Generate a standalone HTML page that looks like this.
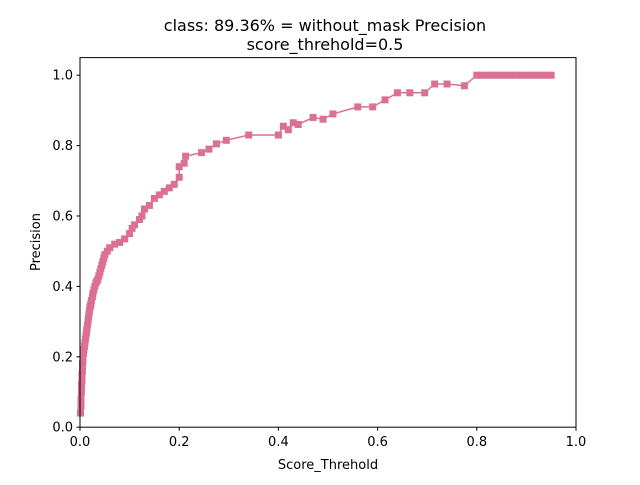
<!DOCTYPE html>
<html><head><meta charset="utf-8"><style>
body{margin:0;background:#fff;}
svg text{font-family:"DejaVu Sans","Liberation Sans",sans-serif;fill:#000;}
</style></head><body>
<svg id="chart" width="640" height="480" xmlns="http://www.w3.org/2000/svg">
<rect width="640" height="480" fill="#fff"/>
<text x="325" y="31" font-size="16" text-anchor="middle">class: 89.36% = without_mask Precision</text>
<text x="325" y="50" font-size="16" text-anchor="middle">score_threhold=0.5</text>
<g id="ticks"></g>
<g id="series"></g>
<rect x="80" y="57.6" width="496" height="369.6" fill="none" stroke="#000" stroke-width="1"/>
<text x="328" y="469" font-size="13" text-anchor="middle">Score_Threhold</text>
<text x="40" y="242" font-size="13" text-anchor="middle" transform="rotate(-90 40 242)">Precision</text>
</svg>
<script>
const xTicks=[0,0.2,0.4,0.6,0.8,1.0];
const yTicks=[0,0.2,0.4,0.6,0.8,1.0];
const xs=[0.001,0.002,0.002,0.003,0.003,0.004,0.004,0.005,0.005,0.006,0.006,0.007,0.008,0.009,0.01,0.011,0.012,0.013,0.014,0.015,0.016,0.017,0.018,0.019,0.02,0.021,0.022,0.023,0.025,0.026,0.028,0.03,0.032,0.034,0.036,0.038,0.04,0.042,0.044,0.046,0.048,0.05,0.055,0.06,0.07,0.08,0.09,0.1,0.105,0.11,0.12,0.125,0.13,0.14,0.15,0.16,0.17,0.18,0.19,0.2,0.2,0.21,0.213,0.245,0.26,0.275,0.295,0.34,0.4,0.41,0.42,0.43,0.44,0.47,0.49,0.51,0.56,0.59,0.615,0.64,0.665,0.695,0.715,0.74,0.775,0.8,0.81,0.82,0.83,0.84,0.85,0.86,0.87,0.88,0.89,0.9,0.91,0.92,0.93,0.94,0.95];
const ys=[0.04,0.06,0.08,0.1,0.12,0.13,0.15,0.16,0.18,0.19,0.2,0.21,0.22,0.23,0.24,0.25,0.26,0.27,0.28,0.29,0.3,0.31,0.32,0.33,0.34,0.345,0.35,0.36,0.37,0.38,0.39,0.4,0.41,0.415,0.42,0.43,0.44,0.45,0.46,0.47,0.48,0.49,0.5,0.51,0.52,0.525,0.535,0.55,0.565,0.575,0.59,0.6,0.62,0.63,0.65,0.66,0.67,0.68,0.69,0.71,0.74,0.75,0.77,0.78,0.79,0.805,0.815,0.83,0.83,0.855,0.845,0.865,0.86,0.88,0.875,0.89,0.91,0.91,0.93,0.95,0.95,0.95,0.975,0.975,0.97,1.0,1.0,1.0,1.0,1.0,1.0,1.0,1.0,1.0,1.0,1.0,1.0,1.0,1.0,1.0,1.0];
const NS="http://www.w3.org/2000/svg";
const X=v=>80+v*496;
const Y=v=>427.2-v/1.05*369.6;
const tg=document.getElementById('ticks');
function mk(t,a,p){const e=document.createElementNS(NS,t);for(const k in a)e.setAttribute(k,a[k]);p.appendChild(e);return e;}
xTicks.forEach(v=>{
  const l=mk('line',{x1:X(v),x2:X(v),y1:427.2,y2:430.7,stroke:'#000'},tg);
  
  
  const t=mk('text',{x:X(v),y:446,'font-size':13,'text-anchor':'middle'},tg);
  t.textContent=v.toFixed(1);
  
  
});
yTicks.forEach(v=>{
  const l=mk('line',{x1:76.5,x2:80,y1:Y(v),y2:Y(v),stroke:'#000'},tg);
  
  
  const t=mk('text',{x:73,y:Y(v)+4.5,'font-size':13,'text-anchor':'end'},tg);
  t.textContent=v.toFixed(1);
  
  
});
const sg=document.getElementById('series');
const pts=xs.map((x,i)=>X(x)+','+Y(ys[i])).join(' ');
const pl=mk('polyline',{points:pts,fill:'none',stroke:'#db7093','stroke-width':1.5},sg);


xs.forEach((x,i)=>{
  const r=mk('rect',{x:X(x)-3.5,y:Y(ys[i])-3.5,width:7,height:7,fill:'#db7093'},sg);
  
  
});
</script>
</body></html>
